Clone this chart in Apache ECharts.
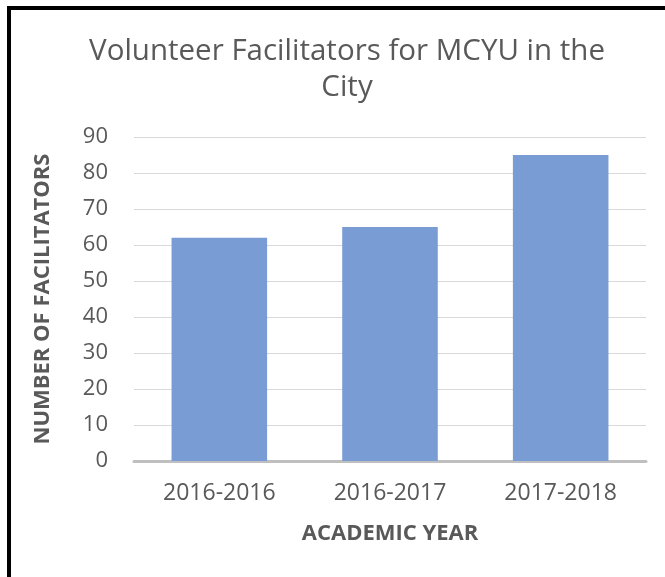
<!DOCTYPE html>
<html>
<head>
<meta charset="utf-8">
<title>Volunteer Facilitators</title>
<style>
	html, body { margin: 0; padding: 0; background: #fff; }
	#frame { position: absolute; left: 7px; top: 6px; width: 660px; height: 580px; border-left: 4px solid #000; border-top: 4px solid #000; }
	#chart-body { position: absolute; left: 0; top: 0; width: 665px; height: 577px; }
</style>
</head>
<body>
<div id="frame"></div>
<div id="chart-body"></div>
<script src="https://cdn.jsdelivr.net/npm/echarts@6/dist/echarts.min.js"></script>
<script>
// data
var years = ["2016-2016", "2016-2017", "2017-2018"];
var facilitators = [62, 65, 85];
var yTicks = [0, 10, 20, 30, 40, 50, 60, 70, 80, 90];

var font = '"Open Sans", "Noto Sans", sans-serif',
	myChart = echarts.init(document.getElementById('chart-body')),
	option = {
		animation: false,
		title: {
			text: 'Volunteer Facilitators for MCYU in the\nCity',
			left: 342,
			textAlign: 'center',
			top: 29,
			textStyle: { fontFamily: font, fontSize: 29.5, fontWeight: 'normal', color: '#595959', lineHeight: 36 }
		},
		grid: { left: 134, right: 19, top: 137, bottom: 116 },
		xAxis: {
			type: 'category',
			data: years,
			name: 'ACADEMIC YEAR',
			nameLocation: 'middle',
			nameGap: 62,
			nameTextStyle: { fontFamily: font, fontSize: 22, fontWeight: 'bold', color: '#595959' },
			axisLine: { lineStyle: { color: '#bfbfbf', width: 3 } },
			axisTick: { show: false },
			axisLabel: { fontFamily: font, fontSize: 23, color: '#595959', margin: 21 }
		},
		yAxis: {
			type: 'value',
			min: yTicks[0],
			max: yTicks[yTicks.length - 1],
			interval: yTicks[1] - yTicks[0],
			name: 'NUMBER OF FACILITATORS',
			nameLocation: 'middle',
			nameGap: 80,
			nameTextStyle: { fontFamily: font, fontSize: 22, fontWeight: 'bold', color: '#595959' },
			axisLine: { show: false },
			axisTick: { show: false },
			axisLabel: { fontFamily: font, fontSize: 22, color: '#595959', margin: 26 },
			splitLine: { lineStyle: { color: '#d9d9d9', width: 1 } }
		},
		series: [{
			name: 'Facilitators',
			type: 'bar',
			data: facilitators,
			barWidth: '56%',
			itemStyle: { color: '#7a9cd5' }
		}]
	};
myChart.setOption(option);
</script>
</body>
</html>
